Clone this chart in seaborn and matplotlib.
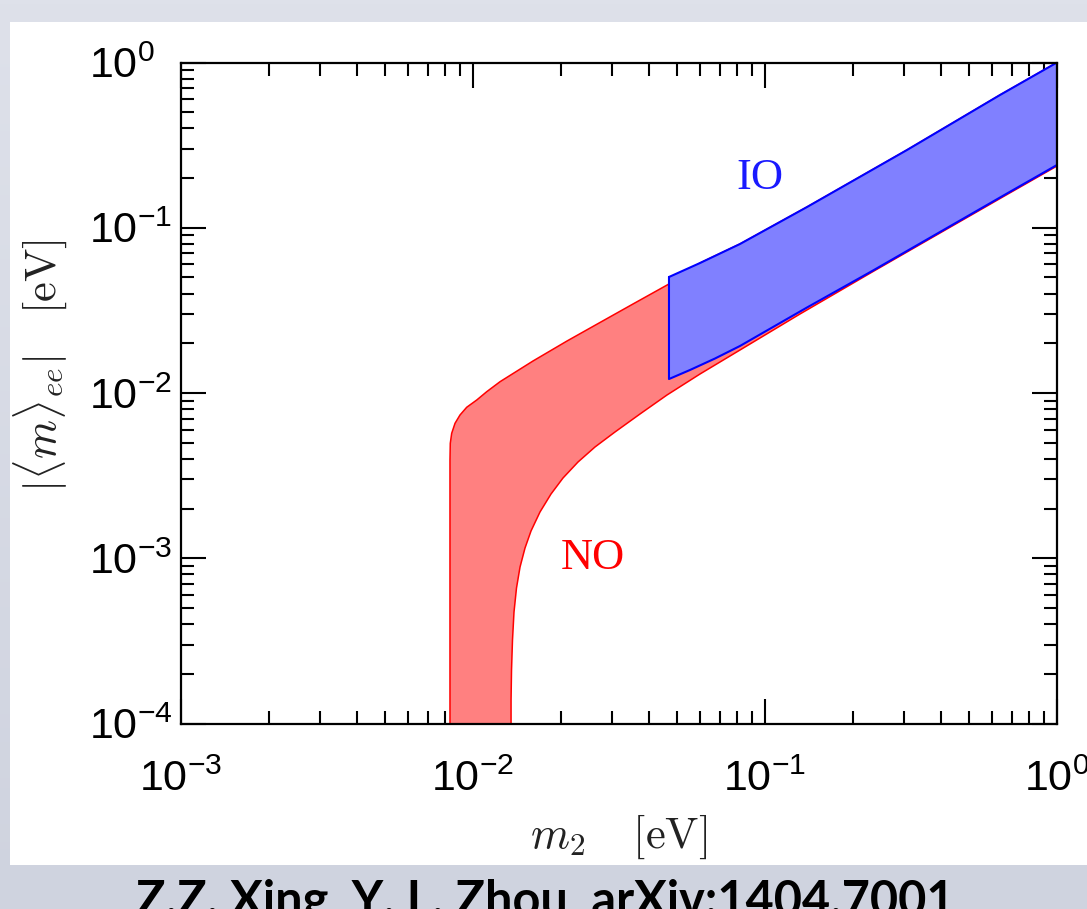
import numpy as np
import pandas as pd
import matplotlib
matplotlib.use("Agg")
import matplotlib.pyplot as plt
import seaborn as sns
from matplotlib.patches import Rectangle
from matplotlib.ticker import LogLocator, NullFormatter

# ---------------- data ----------------
# Normal ordering (NO) band: upper/left boundary, then lower/right boundary
no_upper_m2 = [0.00834, 0.00834, 0.00834, 0.00834, 0.00836, 0.008453, 0.008678,
               0.009025, 0.009515, 0.0103, 0.01114, 0.01238, 0.01605, 0.02099,
               0.02722, 0.03531, 0.04654]
no_upper_mee = [8e-5, 5.588e-4, 2.251e-3, 3.932e-3, 4.961e-3, 5.703e-3, 6.556e-3,
                7.359e-3, 8.196e-3, 9.071e-3, 0.01018, 0.01171, 0.01562, 0.02064,
                0.02671, 0.03456, 0.04534]
no_lower_m2 = [0.0135, 0.0135, 0.01355, 0.013654, 0.013817, 0.014092, 0.01449,
               0.01507, 0.0158, 0.01696, 0.0185, 0.02033, 0.02289, 0.02617, 0.03064,
               0.03731, 0.04617, 0.0599, 0.08209, 0.1318, 0.2344, 0.3975, 0.6743, 1.0]
no_lower_mee = [8e-5, 1.388e-4, 2.108e-4, 3.2e-4, 4.727e-4, 6.607e-4, 8.851e-4,
                1.153e-3, 1.462e-3, 1.905e-3, 2.448e-3, 3.058e-3, 3.823e-3, 4.713e-3,
                5.808e-3, 7.462e-3, 9.725e-3, 0.01303, 0.0182, 0.03007, 0.05434,
                0.09295, 0.1589, 0.2364]

# Inverted ordering (IO) band
io_upper_m2 = [0.0469, 0.0599, 0.08209, 0.1393, 0.3064, 0.6379, 1.0]
io_upper_mee = [0.05035, 0.06118, 0.07973, 0.1335, 0.2955, 0.6358, 1.0]
io_lower_m2 = [0.0469, 0.05536, 0.06742, 0.08209, 0.1393, 0.2344, 0.3975, 0.6743, 1.0]
io_lower_mee = [0.01215, 0.01378, 0.01617, 0.01925, 0.03292, 0.05511, 0.09425,
                0.1612, 0.2398]

region_labels = ["NO", "IO"]
label_pos_m2 = [0.0258, 0.096]
label_pos_mee = [1.0e-3, 0.2]

x_limits = [1e-3, 1.0]
y_limits = [1e-4, 1.0]
x_label = r"$m_2\quad\,[\mathrm{eV}]$"
y_label = r"$|\langle m\rangle_{ee}|\quad[\mathrm{eV}]$"
credit = "Z.Z. Xing, Y. L. Zhou, arXiv:1404.7001"

# ---------------- style ----------------
sns.set_theme(style="ticks")
plt.rcParams["font.family"] = ["Liberation Sans", "DejaVu Sans"]

W, H = 1087, 909
fig = plt.figure(figsize=(W / 100, H / 100), dpi=100)

# slide-like background with gradient and white panel
bg = fig.add_axes([0, 0, 1, 1], zorder=-5)
grad = np.linspace(0, 1, 256).reshape(-1, 1)
cmap = matplotlib.colors.LinearSegmentedColormap.from_list(
    "bg", ["#dee1ea", "#cfd3df"])
bg.imshow(grad, aspect="auto", cmap=cmap, extent=[0, 1, 0, 1], origin="upper")
bg.add_patch(Rectangle((10 / W, 1 - 865 / H), 1 - 10 / W, (865 - 22) / H,
                       facecolor="white", edgecolor="none"))
bg.set_xlim(0, 1)
bg.set_ylim(0, 1)
bg.axis("off")

ax = fig.add_axes([181 / W, 1 - 723.5 / H, (1057 - 181) / W, (723.5 - 62.5) / H])
ax.set_facecolor("white")
ax.set_xscale("log")
ax.set_yscale("log")

# NO region (its hidden top continues under the IO band)
no_poly_x = no_upper_m2 + io_upper_m2[1:] + no_lower_m2[::-1]
no_poly_y = no_upper_mee + io_upper_mee[1:] + no_lower_mee[::-1]
ax.fill(no_poly_x, no_poly_y, facecolor="#ff8080", edgecolor="#ff0000",
        linewidth=1.1, zorder=2)

# IO region
io_poly_x = io_upper_m2 + io_lower_m2[::-1] + [io_upper_m2[0]]
io_poly_y = io_upper_mee + io_lower_mee[::-1] + [io_upper_mee[0]]
ax.fill(io_poly_x, io_poly_y, facecolor="#8080ff", edgecolor="none", zorder=3)
io_df = pd.DataFrame({"m2": io_poly_x, "mee": io_poly_y})
sns.lineplot(data=io_df, x="m2", y="mee", sort=False, estimator=None,
             color="#0000ff", linewidth=1.5, ax=ax, zorder=4)

for lab, xm, ym, col in zip(region_labels, label_pos_m2, label_pos_mee,
                            ["#ff0000", "#1a1aff"]):
    ax.text(xm, ym, lab, color=col, fontsize=32, ha="center", va="center",
            family=["Liberation Serif", "DejaVu Serif"], zorder=5)

ax.set_xlim(*x_limits)
ax.set_ylim(*y_limits)

# ticks
for axis in (ax.xaxis, ax.yaxis):
    axis.set_major_locator(LogLocator(base=10, numticks=10))
    axis.set_minor_locator(LogLocator(base=10, subs=np.arange(2, 10), numticks=20))
    axis.set_minor_formatter(NullFormatter())
ax.tick_params(which="both", direction="in", top=True, right=True,
               width=1.5, color="black", labelsize=31, labelcolor="black")
ax.tick_params(which="major", length=18)
ax.tick_params(which="minor", length=9.5)
ax.tick_params(axis="x", which="major", pad=26)
ax.tick_params(axis="y", which="major", pad=66)
for t in ax.get_yticklabels():
    t.set_horizontalalignment("left")
for s in ax.spines.values():
    s.set_linewidth(1.6)
    s.set_color("black")
    s.set_zorder(6)

ax.set_xlabel(x_label, fontsize=32, math_fontfamily="cm", color="#222222",
              labelpad=9)
ax.set_ylabel(y_label, fontsize=32, math_fontfamily="cm", color="#222222")
ax.yaxis.set_label_coords(-0.128, 0.542)

fig.text(545 / W, -7 / H, credit, ha="center", va="baseline",
         fontsize=35, fontweight="bold", family=["Lato", "DejaVu Sans"],
         color="black")

fig.savefig("out.png", dpi=100)
